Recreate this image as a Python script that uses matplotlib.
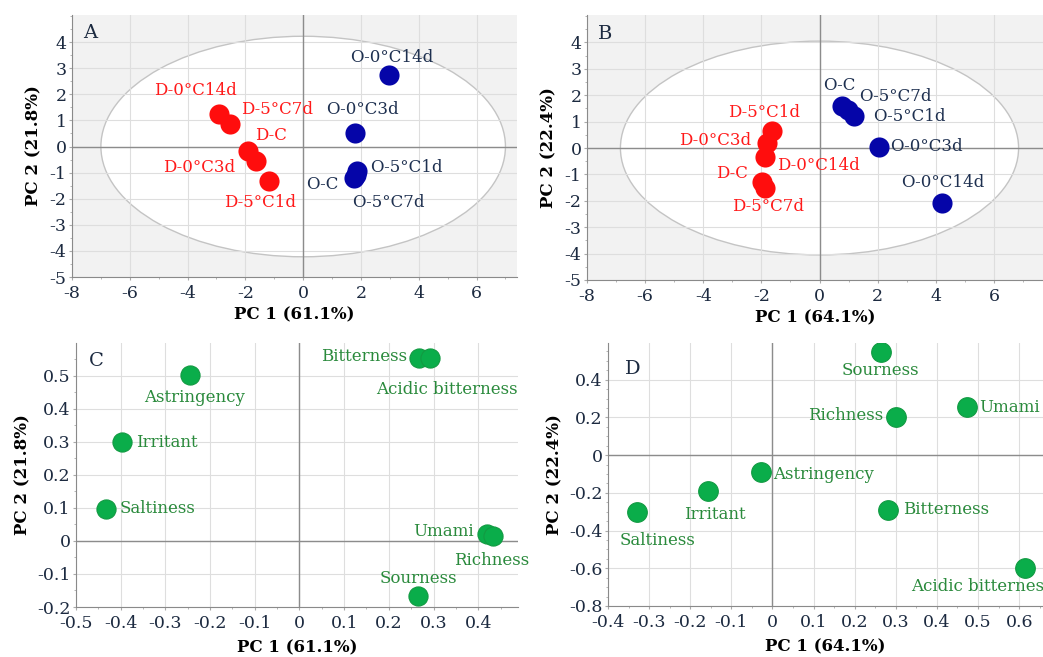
import numpy as np
import matplotlib
matplotlib.use("Agg")
from matplotlib import pyplot as plt
from matplotlib.patches import Ellipse
from matplotlib.ticker import MultipleLocator

plt.rcParams['font.family'] = ['DejaVu Serif']

# score plot A (PC1 61.1%, PC2 21.8%)
a_red_names = ["D-0°C14d", "D-5°C7d", "D-C", "D-0°C3d", "D-5°C1d"]
a_red_x = [-2.91, -2.53, -1.90, -1.63, -1.17]
a_red_y = [1.25, 0.86, -0.16, -0.57, -1.31]
a_blue_names = ["O-0°C14d", "O-0°C3d", "O-5°C1d", "O-C", "O-5°C7d"]
a_blue_x = [2.97, 1.79, 1.88, 1.77, 1.82]
a_blue_y = [2.75, 0.51, -0.93, -1.19, -1.08]

# score plot B (PC1 64.1%, PC2 22.4%)
b_red_names = ["D-5°C1d", "D-0°C3d", "D-0°C14d", "D-C", "D-5°C7d"]
b_red_x = [-1.64, -1.80, -1.87, -1.97, -1.87]
b_red_y = [0.64, 0.19, -0.34, -1.29, -1.50]
b_blue_names = ["O-C", "O-5°C7d", "O-5°C1d", "O-0°C3d", "O-0°C14d"]
b_blue_x = [0.77, 0.97, 1.18, 2.03, 4.21]
b_blue_y = [1.58, 1.43, 1.21, 0.04, -2.08]

# loading plot C
c_names = ["Astringency", "Irritant", "Saltiness", "Bitterness", "Acidic bitterness",
           "Umami", "Richness", "Sourness"]
c_x = [-0.245, -0.396, -0.432, 0.268, 0.292, 0.419, 0.434, 0.265]
c_y = [0.502, 0.298, 0.098, 0.553, 0.553, 0.022, 0.015, -0.167]

# loading plot D
d_names = ["Sourness", "Richness", "Umami", "Astringency", "Irritant", "Saltiness",
           "Bitterness", "Acidic bitterness"]
d_x = [0.263, 0.300, 0.472, -0.027, -0.156, -0.329, 0.280, 0.614]
d_y = [0.549, 0.202, 0.255, -0.088, -0.191, -0.300, -0.293, -0.597]

# label offsets (pixels) and alignment
a_red_off = [(-24, 23, 'center'), (11, 15, 'left'), (7, 15, 'left'), (-21, -6, 'right'), (-9, -22, 'center')]
a_blue_off = [(3, 17, 'center'), (8, 24, 'center'), (13, 3, 'left'), (-16, -7, 'right'), (33, -28, 'center')]
b_red_off = [(-8, 19, 'center'), (-16, 3, 'right'), (12, -8, 'left'), (-14, 9, 'right'), (3, -19, 'center')]
b_blue_off = [(-3, 21, 'center'), (11, 14, 'left'), (19, 0, 'left'), (12, 0, 'left'), (1, 20, 'center')]
c_off = [(5, -22, 'center'), (14, 0, 'left'), (13, 0, 'left'), (-12, 2, 'right'), (17, -31, 'center'),
         (-13, 2, 'right'), (-39, -25, 'left'), (1, 18, 'center')]
d_off = [(0, -19, 'center'), (-13, 2, 'right'), (13, 0, 'left'), (12, -3, 'left'), (7, -23, 'center'),
         (20, -29, 'center'), (15, 1, 'left'), (-114, -19, 'left')]

RED = '#ff0d0d'
BLUE = '#0505a8'
GREEN = '#0aad4a'
RED_T = '#ff1a1a'
BLUE_T = '#1e3050'
GREEN_T = '#2a8a3c'
TICK_C = '#1c2a40'

fig = plt.figure(figsize=(10.43, 6.57), dpi=100)
W, H = 1043, 657


def make_ax(l, r, t, b):
    return fig.add_axes([l / W, 1 - b / H, (r - l) / W, (b - t) / H])


def style(ax, bg):
    ax.set_facecolor(bg)
    for s in ['top', 'right']:
        ax.spines[s].set_visible(False)
    for s in ['left', 'bottom']:
        ax.spines[s].set_color('#8a8a8a')
        ax.spines[s].set_linewidth(0.8)
    ax.grid(True, which='major', color='#dedede', linewidth=0.8)
    ax.set_axisbelow(True)
    ax.axhline(0, color='#8c8c8c', linewidth=1.0, zorder=1)
    ax.axvline(0, color='#8c8c8c', linewidth=1.0, zorder=1)
    ax.tick_params(which='major', length=2, color='#aaaaaa', labelsize=12.5, labelcolor=TICK_C)
    ax.tick_params(axis='y', which='major', pad=2)
    ax.tick_params(axis='x', which='major', pad=4)
    ax.tick_params(which='minor', length=1.5, color='#aaaaaa')


def fmt(v, dec):
    if abs(v) < 1e-9:
        return '0'
    return ('%.' + str(dec) + 'f') % v


def labels(ax, xs, ys, names, offs, color):
    for x, y, n, (dx, dy, ha) in zip(xs, ys, names, offs):
        ax.annotate(n, (x, y), xytext=(dx, dy), textcoords='offset pixels',
                    ha=ha, va='center', color=color, fontsize=12, zorder=5,
                    annotation_clip=False)


# ---- A ----
axA = make_ax(72, 517, 15, 277)
style(axA, '#f2f2f2')
axA.add_patch(Ellipse((0, 0), 14.0, 8.45, facecolor='white', edgecolor='#c4c4c4', linewidth=1, zorder=0.5))
axA.scatter(a_red_x, a_red_y, s=210, color=RED, zorder=3, linewidths=0)
axA.scatter(a_blue_x, a_blue_y, s=210, color=BLUE, zorder=3, linewidths=0)
labels(axA, a_red_x, a_red_y, a_red_names, a_red_off, RED_T)
labels(axA, a_blue_x, a_blue_y, a_blue_names, a_blue_off, BLUE_T)
axA.set_xlim(-8, 7.4)
axA.set_ylim(-5, 5.04)
axA.xaxis.set_minor_locator(MultipleLocator(1))
axA.yaxis.set_minor_locator(MultipleLocator(0.5))
axA.set_xticks(np.arange(-8, 7, 2))
axA.set_xticklabels([fmt(v, 0) for v in np.arange(-8, 7, 2)])
axA.set_yticks(np.arange(-5, 5, 1))
axA.set_yticklabels([fmt(v, 0) for v in np.arange(-5, 5, 1)])
axA.set_xlabel('PC 1 (61.1%)', fontsize=12, fontweight='bold', labelpad=3)
axA.set_ylabel('PC 2 (21.8%)', fontsize=12, fontweight='bold', labelpad=5)
axA.text(0.025, 0.93, 'A', transform=axA.transAxes, fontsize=14, color=TICK_C, va='center')

# ---- B ----
axB = make_ax(587, 1043, 15, 280)
style(axB, '#f2f2f2')
axB.add_patch(Ellipse((0, 0), 13.7, 8.1, facecolor='white', edgecolor='#c4c4c4', linewidth=1, zorder=0.5))
axB.scatter(b_red_x, b_red_y, s=210, color=RED, zorder=3, linewidths=0)
axB.scatter(b_blue_x, b_blue_y, s=210, color=BLUE, zorder=3, linewidths=0)
labels(axB, b_red_x, b_red_y, b_red_names, b_red_off, RED_T)
labels(axB, b_blue_x, b_blue_y, b_blue_names, b_blue_off, BLUE_T)
axB.set_xlim(-8, 7.69)
axB.set_ylim(-5, 5.04)
axB.xaxis.set_minor_locator(MultipleLocator(1))
axB.yaxis.set_minor_locator(MultipleLocator(0.5))
axB.set_xticks(np.arange(-8, 7, 2))
axB.set_xticklabels([fmt(v, 0) for v in np.arange(-8, 7, 2)])
axB.set_yticks(np.arange(-5, 5, 1))
axB.set_yticklabels([fmt(v, 0) for v in np.arange(-5, 5, 1)])
axB.set_xlabel('PC 1 (64.1%)', fontsize=12, fontweight='bold', labelpad=3)
axB.set_ylabel('PC 2 (22.4%)', fontsize=12, fontweight='bold', labelpad=5)
axB.text(0.025, 0.93, 'B', transform=axB.transAxes, fontsize=14, color=TICK_C, va='center')

# ---- C ----
axC = make_ax(76, 518, 343, 607)
style(axC, 'white')
axC.scatter(c_x, c_y, s=190, color=GREEN, edgecolor='#129a42', linewidths=0.8, zorder=3)
labels(axC, c_x, c_y, c_names, c_off, GREEN_T)
axC.set_xlim(-0.5, 0.489)
axC.set_ylim(-0.2, 0.599)
xt = np.round(np.arange(-0.5, 0.45, 0.1), 1)
axC.set_xticks(xt)
axC.set_xticklabels([fmt(v, 1) for v in xt])
yt = np.round(np.arange(-0.2, 0.55, 0.1), 1)
axC.set_yticks(yt)
axC.set_yticklabels([fmt(v, 1) for v in yt])
axC.xaxis.set_minor_locator(MultipleLocator(0.05))
axC.yaxis.set_minor_locator(MultipleLocator(0.05))
axC.set_xlabel('PC 1 (61.1%)', fontsize=12, fontweight='bold', labelpad=5)
axC.set_ylabel('PC 2 (21.8%)', fontsize=12, fontweight='bold', labelpad=4)
axC.text(0.03, 0.93, 'C', transform=axC.transAxes, fontsize=14, color=TICK_C, va='center')

# ---- D ----
axD = make_ax(608, 1043, 343, 606)
style(axD, 'white')
axD.scatter(d_x, d_y, s=200, color=GREEN, edgecolor='#129a42', linewidths=0.8, zorder=3)
labels(axD, d_x, d_y, d_names, d_off, GREEN_T)
axD.set_xlim(-0.4, 0.658)
axD.set_ylim(-0.8, 0.595)
xt = np.round(np.arange(-0.4, 0.65, 0.1), 1)
axD.set_xticks(xt)
axD.set_xticklabels([fmt(v, 1) for v in xt])
yt = np.round(np.arange(-0.8, 0.45, 0.2), 1)
axD.set_yticks(yt)
axD.set_yticklabels([fmt(v, 1) for v in yt])
axD.xaxis.set_minor_locator(MultipleLocator(0.05))
axD.yaxis.set_minor_locator(MultipleLocator(0.05))
axD.set_xlabel('PC 1 (64.1%)', fontsize=12, fontweight='bold', labelpad=5)
axD.set_ylabel('PC 2 (22.4%)', fontsize=12, fontweight='bold', labelpad=4)
axD.text(0.04, 0.9, 'D', transform=axD.transAxes, fontsize=14, color=TICK_C, va='center')

fig.savefig('out.png', dpi=100)
